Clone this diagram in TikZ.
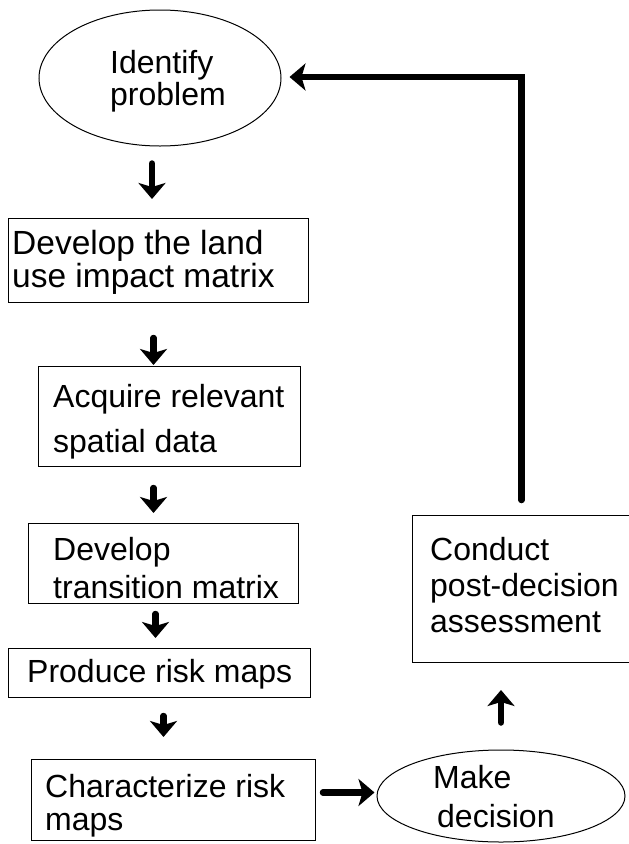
\documentclass[tikz,border=0pt]{standalone}
\usepackage{fontspec}
\setmainfont{Liberation Sans}
\usetikzlibrary{arrows.meta,shapes.geometric}

\tikzset{
  box/.style={draw, line width=1pt, rectangle, inner sep=0pt, anchor=north west},
  oval/.style={draw, line width=1pt, ellipse, inner sep=0pt},
  % text blocks are placed by the baseline of their last line
  txt/.style={inner sep=0pt, anchor=base west, align=left},
  flow/.style={line width=6.5pt, line cap=round,
    -{Stealth[length=16pt, width=27pt, inset=4pt]}},
}

% size and line spacing of a text block
\newcommand{\fsz}[2]{\fontsize{#1}{#2}\selectfont}

\begin{document}
\begin{tikzpicture}[x=1pt, y=-1pt]
  \useasboundingbox (0,0) rectangle (629,844);
  \fill[white] (0,0) rectangle (629,844);

  % steps of the procedure
  \node[oval, minimum width=242pt, minimum height=136pt] (e1) at (160,78) {};
  \node[txt, font={\fsz{32}{32}}] (t1) at (110,105) {Identify\\problem};

  \node[box, minimum width=300pt, minimum height=84pt] (b1) at (8,218) {};
  \node[txt, font={\fsz{33.5}{30}}] (t2) at (12,287) {Develop the land\\use impact matrix};

  \node[box, minimum width=262pt, minimum height=100pt] (b2) at (38,366) {};
  \node[txt, font={\fsz{32}{45}}] (t3) at (53,452) {Acquire relevant\\spatial data};

  \node[box, minimum width=270pt, minimum height=80pt] (b3) at (28,523) {};
  \node[txt, font={\fsz{32}{38}}] (t4) at (53,598) {Develop\\transition matrix};

  \node[box, minimum width=302pt, minimum height=49pt] (b4) at (8,648) {};
  \node[txt, font={\fsz{32}{32}}] (t5) at (27,682) {Produce risk maps};

  \node[box, minimum width=284pt, minimum height=81pt] (b5) at (31,759) {};
  \node[txt, font={\fsz{32}{33}}] (t6) at (45,830) {Characterize risk\\maps};

  \node[oval, minimum width=248pt, minimum height=92pt] (e2) at (501,796) {};
  \node[txt, font={\fsz{32}{39}}] (t7) at (433,827) {Make\\\hspace*{4pt}decision};

  \node[box, minimum width=222pt, minimum height=147pt] (cb) at (412,515) {};
  \node[txt, font={\fsz{32}{36}}] (t8) at (430,632) {Conduct\\post-decision\\assessment};

  % connectors
  \draw[flow, shorten <=17pt, shorten >=19pt]
    ([xshift=-8pt]e1.south) -- ([xshift=-8pt]e1.south |- b1.north);
  \draw[flow, shorten <=35pt, shorten >=1pt]
    ([xshift=-5pt]b1.south) -- ([xshift=-5pt]b1.south |- b2.north);
  \draw[flow, shorten <=21pt, shorten >=10pt]
    ([xshift=-16pt]b2.south) -- ([xshift=-16pt]b2.south |- b3.north);
  \draw[flow, shorten <=10pt, shorten >=10pt]
    ([xshift=-8pt]b3.south) -- ([xshift=-8pt]b3.south |- b4.north);
  \draw[flow, shorten <=18pt, shorten >=22pt]
    ([xshift=4pt]b4.south) -- ([xshift=4pt]b4.south |- b5.north);
  \draw[flow, shorten <=7pt, shorten >=2pt]
    ([yshift=7.5pt]b5.east) -- ([yshift=7.5pt]b5.east -| e2.west);
  \draw[flow, shorten <=27pt, shorten >=27pt]
    (e2.north) -- (e2.north |- cb.south);
  \draw[flow, shorten <=15pt, shorten >=8pt]
    ([xshift=-2pt]cb.north) |- ([yshift=1pt]e1.east);
\end{tikzpicture}
\end{document}
